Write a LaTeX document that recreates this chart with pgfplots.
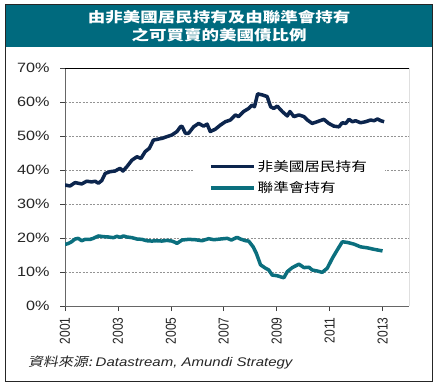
\documentclass[border=0pt]{standalone}
\usepackage{pgfplots}
\pgfplotsset{compat=1.18}
\usepackage{fontspec}
\setmainfont{Liberation Sans}
\newfontfamily\lsans[FakeStretch=1.2]{Liberation Sans}
\newfontfamily\lsansn{Liberation Sans}
\newfontfamily\cjk[FakeStretch=1.2]{Noto Sans CJK TC}
\newfontfamily\cjkt[FakeStretch=1.25]{Noto Sans CJK TC}
\newfontfamily\cjki[FakeStretch=1.2,FakeSlant=0.2]{Noto Sans CJK TC}
\definecolor{navy}{HTML}{0C254D}
\definecolor{tealc}{HTML}{0B6F7E}
\definecolor{titlebg}{HTML}{006A7E}
\begin{document}
\begin{tikzpicture}
\useasboundingbox (0pt,0pt) rectangle (438pt,386pt);
\fill[white] (0pt,0pt) rectangle (438pt,386pt);
\fill[titlebg] (5pt,339pt) rectangle (432pt,382pt);
\draw[black!85, line width=0.8pt] (5pt,5pt) rectangle (432pt,382pt);
\node[white, font=\cjkt\bfseries\fontsize{14}{18}\selectfont, align=center] at (219pt,360pt) {由非美國居民持有及由聯準會持有\\之可買賣的美國債比例};
\node[anchor=west, inner sep=0pt, text=black!85] at (28pt,23pt) {\cjki\fontsize{12.5}{14}\selectfont 資料來源:\ \lsans\itshape Datastream, Amundi Strategy};
\begin{axis}[
  at={(65pt,80pt)}, anchor=south west,
  scale only axis, width=344pt, height=238pt,
  xmin=2001, xmax=2014, ymin=0, ymax=70,
  axis lines=left,
  axis line style={-, draw=gray!80!black, line width=0.7pt},
  tick align=outside, major tick length=5pt,
  tick style={black!75, line width=0.6pt},
  xtick={2001,2003,...,2013},
  xticklabels={2001,2003,2005,2007,2009,2011,2013},
  ytick={0,10,...,70},
  yticklabels={0\%,10\%,20\%,30\%,40\%,50\%,60\%,70\%},
  yticklabel style={font=\lsans\fontsize{13.5}{13.5}\selectfont, text=black!85, xshift=-7pt},
  xticklabel style={font=\lsansn\fontsize{12}{12}\selectfont, text=black!85, yshift=-3pt, xscale=1.2, rotate=90, anchor=east},
  ymajorgrids,
  grid style={dash pattern=on 2pt off 1.5pt, gray!85, line width=0.6pt},
  legend style={at={(0.372,0.54)}, anchor=west, draw=none, fill=white,
    font=\cjk\fontsize{13}{15}\selectfont, inner xsep=16pt, inner ysep=4pt, row sep=5pt},
  legend cell align=left,
  legend image code/.code={\draw[#1] (0pt,0pt) -- (43pt,0pt);},
]
\addplot[navy, line width=3.5pt, line join=round] coordinates {
(2001.00,35.6)(2001.19,35.3)(2001.38,36.3)(2001.63,35.9)(2001.82,36.7)(2002.01,36.5)
(2002.14,36.7)(2002.26,36.1)(2002.39,36.9)(2002.52,39.0)(2002.70,39.5)(2002.89,39.7)
(2003.08,40.5)(2003.19,39.7)(2003.34,41.0)(2003.53,42.9)(2003.72,43.9)(2003.87,43.4)
(2004.03,45.4)(2004.19,46.4)(2004.34,48.8)(2004.47,49.0)(2004.66,49.3)(2004.85,49.8)
(2005.04,50.3)(2005.23,51.3)(2005.36,52.7)(2005.42,52.9)(2005.55,50.8)(2005.67,50.8)
(2005.86,52.7)(2006.05,53.7)(2006.24,52.9)(2006.37,53.5)(2006.49,51.3)(2006.68,52.0)
(2006.87,53.2)(2007.06,54.2)(2007.25,54.7)(2007.44,56.2)(2007.56,55.7)(2007.75,57.2)
(2007.94,58.1)(2008.07,59.1)(2008.16,58.6)(2008.28,62.4)(2008.45,62.1)(2008.64,61.6)
(2008.77,58.6)(2008.89,58.1)(2009.02,58.8)(2009.21,57.2)(2009.40,55.9)(2009.50,57.2)
(2009.65,55.7)(2009.84,56.2)(2010.03,55.7)(2010.16,54.7)(2010.34,53.7)(2010.53,54.2)
(2010.78,54.9)(2010.97,53.7)(2011.16,52.9)(2011.35,52.7)(2011.48,53.9)(2011.61,53.7)
(2011.73,54.9)(2011.86,54.2)(2011.98,54.5)(2012.17,53.9)(2012.36,54.2)(2012.55,54.7)
(2012.68,54.5)(2012.81,55.0)(2012.93,54.5)(2013.06,54.2)
};
\addlegendentry{非美國居民持有}
\addplot[tealc, line width=3.5pt, line join=round] coordinates {
(2001.00,18.1)(2001.13,18.4)(2001.25,18.9)(2001.38,19.7)(2001.50,19.9)(2001.63,19.2)
(2001.76,19.6)(2001.95,19.6)(2002.07,19.9)(2002.26,20.6)(2002.45,20.4)(2002.64,20.3)
(2002.83,20.1)(2002.96,20.5)(2003.08,20.2)(2003.21,20.6)(2003.34,20.3)(2003.53,20.1)
(2003.72,19.7)(2003.91,19.6)(2004.09,19.2)(2004.28,19.1)(2004.47,19.2)(2004.66,19.1)
(2004.85,19.3)(2005.04,19.1)(2005.17,18.7)(2005.23,18.4)(2005.42,19.4)(2005.67,19.6)
(2005.92,19.5)(2006.18,19.2)(2006.43,19.8)(2006.62,19.5)(2006.87,19.7)(2007.13,19.9)
(2007.29,19.4)(2007.50,20.2)(2007.63,19.7)(2007.82,19.2)(2007.94,19.1)(2008.11,17.4)
(2008.23,15.5)(2008.39,12.1)(2008.58,11.1)(2008.70,10.6)(2008.83,9.1)(2009.02,8.9)
(2009.14,8.6)(2009.27,8.3)(2009.40,10.1)(2009.59,11.3)(2009.84,12.3)(2010.03,11.3)
(2010.22,11.4)(2010.34,10.6)(2010.53,10.3)(2010.72,9.9)(2010.91,11.1)(2011.10,14.0)
(2011.29,16.5)(2011.48,18.9)(2011.67,18.7)(2011.92,18.2)(2012.17,17.4)(2012.43,17.1)
(2012.66,16.7)(2013.00,16.2)
};
\addlegendentry{聯準會持有}
\draw[black, line width=0.8pt] (rel axis cs:0,1) -- (rel axis cs:1,1) -- (rel axis cs:1,0);
\end{axis}
\end{tikzpicture}
\end{document}
